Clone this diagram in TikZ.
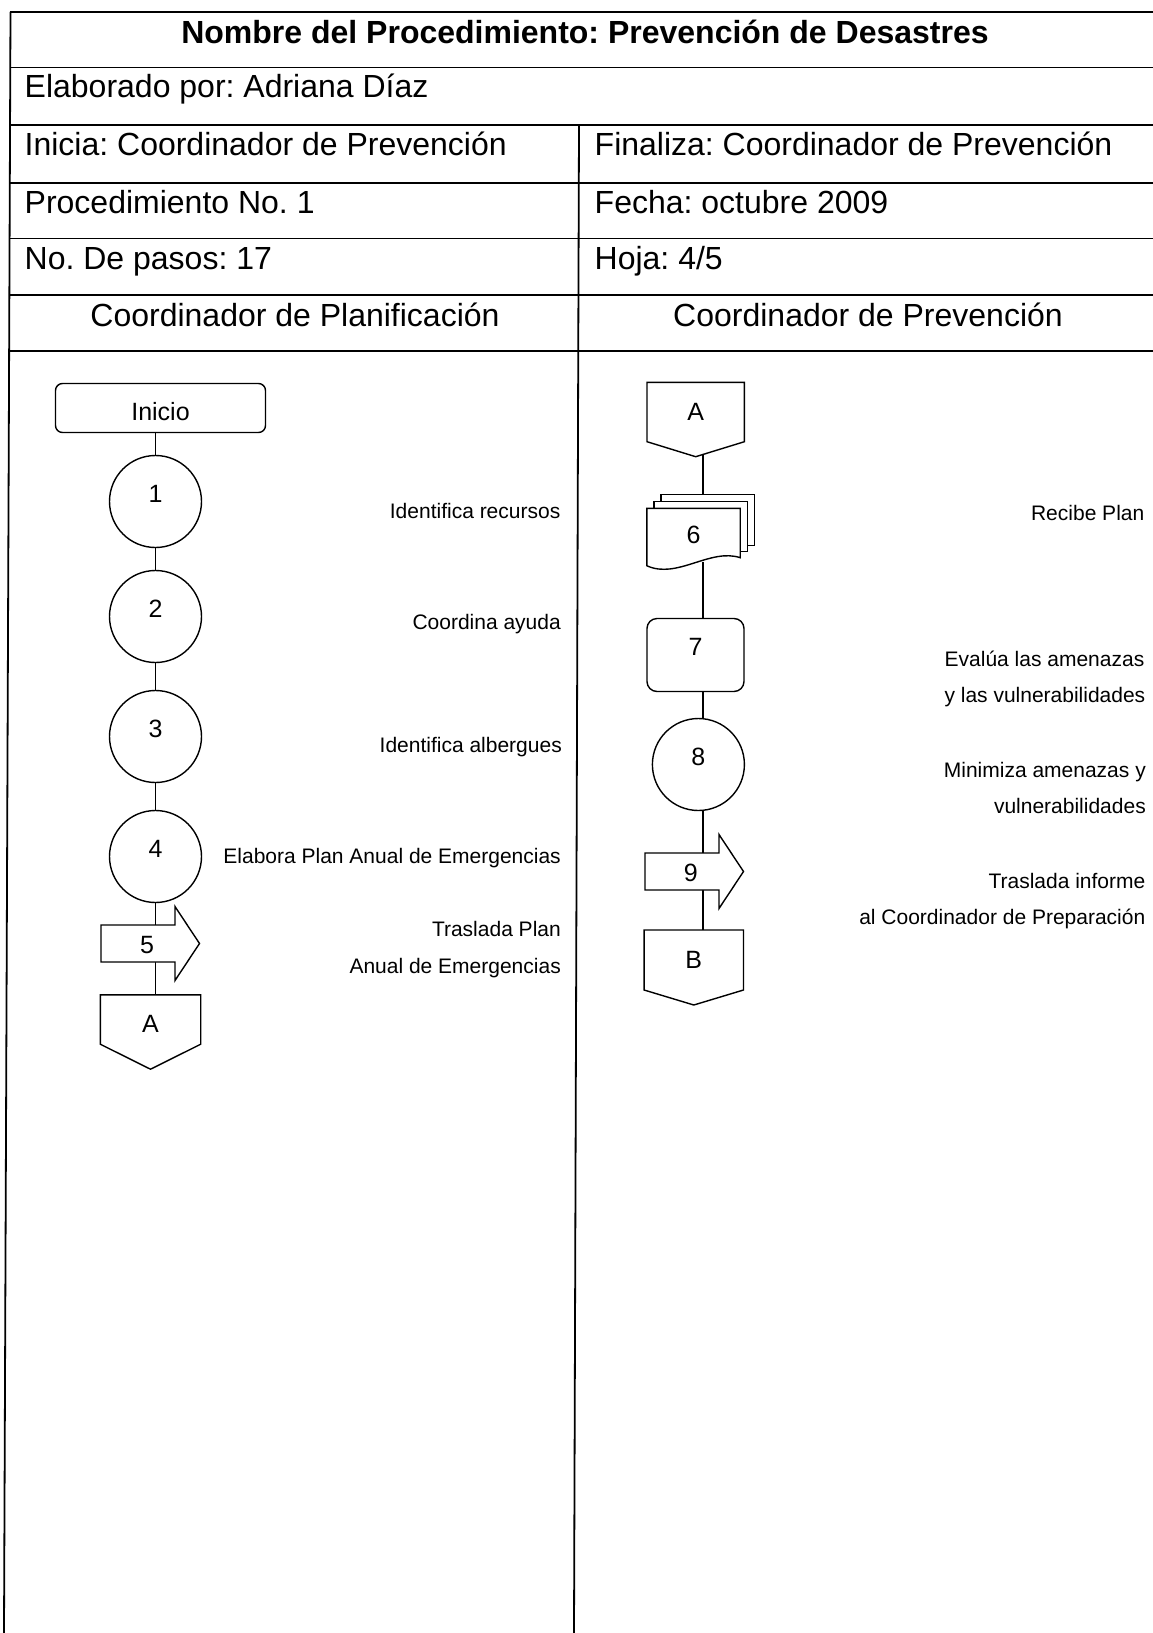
\documentclass[tikz,border=0pt]{standalone}
\usepackage{fontspec}
\setmainfont{Liberation Sans}
\usetikzlibrary{backgrounds}

\tikzstyle{celda} = [inner sep=0pt, anchor=base west, font=\fontsize{32}{36}\selectfont]
\tikzstyle{titulo} = [inner sep=0pt, anchor=base, font=\fontsize{32}{36}\selectfont]
\tikzstyle{cabecera} = [inner sep=0pt, anchor=base, font=\bfseries\fontsize{32}{36}\selectfont]
\tikzstyle{paso} = [circle, draw=black, fill=white, minimum size=92pt, inner sep=0pt, text depth=16pt, font=\fontsize{25}{30}\selectfont]
\tikzstyle{caja} = [rectangle, rounded corners=10pt, draw=black, fill=white, inner sep=0pt, font=\fontsize{25}{30}\selectfont]
\tikzstyle{conector} = [rectangle, inner sep=0pt, font=\fontsize{25}{30}\selectfont]
\tikzstyle{nota} = [inner sep=0pt, anchor=base east, font=\fontsize{21}{25}\selectfont]
\tikzstyle{flujo} = [draw=black, line width=1.4pt]
\tikzset{flecha/.pic={\draw[flujo, fill=white] (0,-18.5) -- (74,-18.5) -- (74,-37) -- (98.5,0) -- (74,37) -- (74,18.5) -- (0,18.5) -- cycle;}}

\begin{document}
\frenchspacing
\begin{tikzpicture}[x=1pt,y=-1pt,line width=1.4pt,node distance=120pt]
\useasboundingbox (0,0) rectangle (1153,1633);

% tabla
\foreach \y in {12,67.5,125,183,238.5,295,351}
    \draw[line width=1.8pt] (10,\y) -- (1153,\y);
\draw[line width=1.8pt] (10.5,12) -- (4,1633);
\draw[line width=1.8pt] (579,125) -- (574,1633);

\node[cabecera] (nombre) at (585,43) {Nombre del Procedimiento: Prevención de Desastres};
\node[celda] (elaborado) at (24,97.5) {Elaborado por: Adriana Díaz};
\node[celda] (inicia) at (24,155.5) {Inicia: Coordinador de Prevención};
\node[celda] (finaliza) at (594,155.5) {Finaliza: Coordinador de Prevención};
\node[celda] (procedimiento) at (24,213) {Procedimiento No. 1};
\node[celda] (fecha) at (594,213) {Fecha: octubre 2009};
\node[celda] (pasos) at (24,269) {No. De pasos: 17};
\node[celda] (hoja) at (594,269) {Hoja: 4/5};
\node[titulo] (planificacion) at (295,326) {Coordinador de Planificación};
\node[titulo] (prevencion) at (868,326) {Coordinador de Prevención};

% Coordinador de Planificacion
\node[caja, rounded corners=7pt, minimum width=210pt, minimum height=49pt, text height=25.6pt] (inicio) at (160.5,408) {Inicio};
\node[paso] (p1) at (155.5,501.5) {1};
\node[paso] (p2) [below of=p1, yshift=5pt] {2};
\node[paso] (p3) [below of=p2] {3};
\node[paso] (p4) [below of=p3] {4};
\node[conector] (p5) at (147,945) {5};
\node[conector, minimum width=99pt, minimum height=48pt, text height=25pt] (conA) [below of=p4, xshift=-5pt, yshift=-43pt] {A};

\node[nota] (n1) at (561,518) {Identifica recursos};
\node[nota] (n2) at (561.5,629) {Coordina ayuda};
\node[nota] (n3) at (562.5,752.5) {Identifica albergues};
\node[nota] (n4) at (561.5,863.5) {Elabora Plan Anual de Emergencias};
\node[nota] (n5a) at (561.5,936.5) {Traslada Plan};
\node[nota] (n5b) at (561.5,973) {Anual de Emergencias};

% Coordinador de Prevencion
\node[conector, minimum width=96pt, minimum height=58pt] (conA2) at (695.7,412) {A};
\node[conector, minimum width=92pt, minimum height=52pt] (p6) at (693.5,535) {6};
\node[caja, minimum width=97pt, minimum height=73pt, text depth=16pt] (p7) at (695.5,655) {7};
\node[paso] (p8) at (698.4,764.5) {8};
\node[conector] (p9) at (690.7,873) {9};
\node[conector, minimum width=98pt, minimum height=58.6pt] (conB) at (693.8,960) {B};

\node[nota] (n6) at (1145,520.5) {Recibe Plan};
\node[nota] (n7a) at (1145,666.5) {Evalúa las amenazas};
\node[nota] (n7b) at (1146,702.5) {y las vulnerabilidades};
\node[nota] (n8a) at (1146.5,777.5) {Minimiza amenazas y};
\node[nota] (n8b) at (1146.5,813.5) {vulnerabilidades};
\node[nota] (n9a) at (1146,888.5) {Traslada informe};
\node[nota] (n9b) at (1146,924.5) {al Coordinador de Preparación};

\begin{scope}[on background layer]
\coordinate (colR) at (703,0);
\draw[flujo] (p1 |- inicio.south) -- (p1);
\draw[flujo] (p1) -- (p2);
\draw[flujo] (p2) -- (p3);
\draw[flujo] (p3) -- (p4);
\draw[flujo] (p4) -- (p4 |- conA.north);
\draw[flujo] (colR |- conA2.south) -- (colR |- p6.north);
\draw[flujo] (colR |- p6.south) -- (colR |- p7.north);
\draw[flujo] (colR |- p7.south) -- (colR |- p8.north);
\draw[flujo] (colR |- p8.south) -- (colR |- conB.north);

% conectores de pagina
\draw[flujo, fill=white] (conA.north west) -- (conA.north east) -- (conA.south east) -- ([yshift=-25pt]conA.south) -- (conA.south west) -- cycle;
\draw[flujo, fill=white] (conA2.north west) -- (conA2.north east) -- (conA2.south east) -- ([yshift=-15pt]conA2.south) -- (conA2.south west) -- cycle;
\draw[flujo, fill=white] (conB.north west) -- (conB.north east) -- (conB.south east) -- ([yshift=-15pt]conB.south) -- (conB.south west) -- cycle;

% documentos
\draw[flujo, fill=white] ([xshift=14pt,yshift=14pt]p6.north west) rectangle ([xshift=14pt,yshift=16pt]p6.south east);
\draw[flujo, fill=white] ([xshift=7pt,yshift=7pt]p6.north west) rectangle ([xshift=7pt,yshift=10pt]p6.south east);
\draw[flujo, fill=white] (p6.north west) -- (p6.north east) -- ([yshift=4pt]p6.south east) .. controls +(-30pt,10pt) and +(30pt,-14pt) .. ([yshift=-4pt]p6.south west) -- cycle;

% traslados
\pic at (101,943.5) {flecha};
\pic at (645,871.5) {flecha};
\end{scope}

\end{tikzpicture}
\end{document}
